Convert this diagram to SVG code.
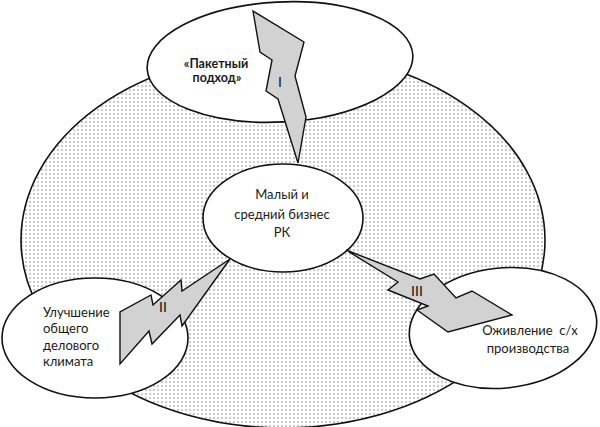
<svg xmlns="http://www.w3.org/2000/svg" width="600" height="427" viewBox="0 0 600 427">
  <defs>
    <pattern id="dots" width="4" height="4" patternUnits="userSpaceOnUse">
      <rect width="4" height="4" fill="#ffffff"/>
      <circle cx="2" cy="2" r="0.7" fill="#707070"/>
    </pattern>
  </defs>
  <style>
    .ell { fill: #ffffff; stroke: #111111; stroke-width: 1.6; }
    .bolt { fill: #d2d2d2; stroke: #111111; stroke-width: 1.4; stroke-linejoin: miter; }
    .t { font-family: Lato, "Liberation Sans", sans-serif; font-size: 13px; fill: #1a1a1a; }
    .c { text-anchor: middle; }
    .b { font-weight: bold; font-size: 12.5px; }
    .num { font-family: Lato, "Liberation Sans", sans-serif; font-size: 14px; fill: #111111; text-anchor: middle; }
  </style>

  <g id="outer">
    <ellipse cx="283" cy="240" rx="262" ry="188" fill="url(#dots)" stroke="#111111" stroke-width="1.6"/>
  </g>

  <g id="node-top">
    <ellipse class="ell" cx="280" cy="62" rx="133" ry="60" transform="rotate(-3 280 62)"/>
    <text class="t c b" x="216" y="68">«Пакетный</text>
    <text class="t c b" x="217" y="81.5">подход»</text>
  </g>

  <g id="node-center">
    <ellipse class="ell" cx="283" cy="218" rx="80" ry="54"/>
    <text class="t c" x="282" y="199">Малый и</text>
    <text class="t c" x="282" y="219">средний бизнес</text>
    <text class="t c" x="282" y="237">РК</text>
  </g>

  <g id="node-left">
    <ellipse class="ell" cx="95" cy="338" rx="93" ry="60"/>
    <text class="t" x="43" y="317">Улучшение</text>
    <text class="t" x="43" y="333">общего</text>
    <text class="t" x="43" y="349.5">делового</text>
    <text class="t" x="43" y="366">климата</text>
  </g>

  <g id="node-right">
    <ellipse class="ell" cx="503" cy="328" rx="94" ry="60" transform="rotate(-6 503 328)"/>
    <text class="t c" x="530" y="335" xml:space="preserve">Оживление  с/х</text>
    <text class="t c" x="528" y="353">производства</text>
  </g>

  <g id="connectors">
    <g id="bolt-I">
      <polygon class="bolt" points="253,11 304,42 295,76 306,117 298,163 278,99 266,91 272,60 260,52"/>
      <text class="num" x="280" y="87">I</text>
    </g>
    <g id="bolt-II">
      <polygon class="bolt" points="230,259 182,291 181,280 153,305 151,295 120,312 120,364 149,331 152,344 180,315 182,326"/>
      <text class="num" x="163" y="312">II</text>
    </g>
    <g id="bolt-III">
      <polygon class="bolt" points="346,250 420,279 434,274 456,298 472,291 512,315 448,332 417,310 428,306 388,290 398,282"/>
      <text class="num" x="417" y="296">III</text>
    </g>
  </g>
</svg>
